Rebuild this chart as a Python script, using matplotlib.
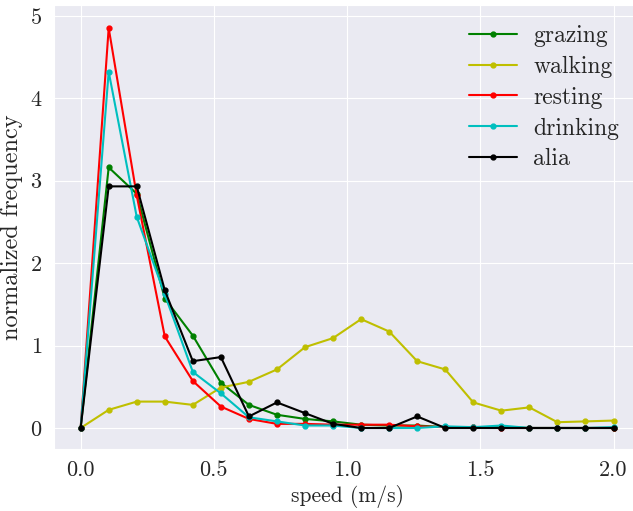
import numpy as np
import matplotlib
matplotlib.use('Agg')
import matplotlib.pyplot as plt
import seaborn as sns

speed = np.linspace(0, 2, 20)
grazing = [0, 3.16, 2.84, 1.57, 1.12, 0.55, 0.28, 0.16, 0.11, 0.08, 0.04, 0.03, 0.03,
           0.01, 0.01, 0.01, 0, 0, 0, 0]
walking = [0, 0.22, 0.32, 0.32, 0.28, 0.49, 0.56, 0.71, 0.98, 1.09, 1.32, 1.17, 0.81,
           0.71, 0.31, 0.21, 0.25, 0.07, 0.08, 0.09]
resting = [0, 4.85, 2.82, 1.11, 0.57, 0.26, 0.11, 0.05, 0.05, 0.04, 0.04, 0.04, 0.02,
           0.01, 0.01, 0, 0, 0, 0, 0]
drinking = [0, 4.32, 2.56, 1.62, 0.68, 0.42, 0.13, 0.08, 0.03, 0.03, 0.0, 0.0, 0.0,
            0.02, 0.01, 0.03, 0, 0, 0, 0.01]
alia = [0, 2.93, 2.93, 1.67, 0.81, 0.86, 0.14, 0.31, 0.18, 0.05, 0.0, 0.0, 0.14,
        0, 0, 0, 0, 0, 0, 0]

sns.set_style('darkgrid')
plt.rcParams['font.family'] = ['cmr10', 'DejaVu Serif']
plt.rcParams['axes.formatter.use_mathtext'] = True
plt.rcParams['mathtext.fontset'] = 'cm'

fig = plt.figure(figsize=(6.33, 5.11), dpi=100)
ax = fig.add_axes([0.0853, 0.1213, 0.926, 0.869])

ax.plot(speed, grazing, 'g.-', lw=1.5, ms=7, label='grazing')
ax.plot(speed, walking, 'y.-', lw=1.5, ms=7, label='walking')
ax.plot(speed, resting, 'r.-', lw=1.5, ms=7, label='resting')
ax.plot(speed, drinking, 'c.-', lw=1.5, ms=7, label='drinking')
ax.plot(speed, alia, 'k.-', lw=1.5, ms=7, label='alia')

ax.set_xlim(-0.1, 2.1)
ax.set_ylim(-0.255, 5.13)
ax.set_xticks([0, 0.5, 1.0, 1.5, 2.0])
ax.set_xticklabels(['0.0', '0.5', '1.0', '1.5', '2.0'])
ax.tick_params(labelsize=16, pad=5)
ax.set_xlabel('speed (m/s)', fontsize=15.5, labelpad=3)
ax.set_ylabel('normalized frequency', fontsize=17.5, labelpad=5)
ax.legend(fontsize=17, frameon=False, loc='upper right', bbox_to_anchor=(1.0, 1.003),
          handlelength=2.0, handletextpad=0.7, labelspacing=0.37)

fig.savefig('out.png', dpi=100)
